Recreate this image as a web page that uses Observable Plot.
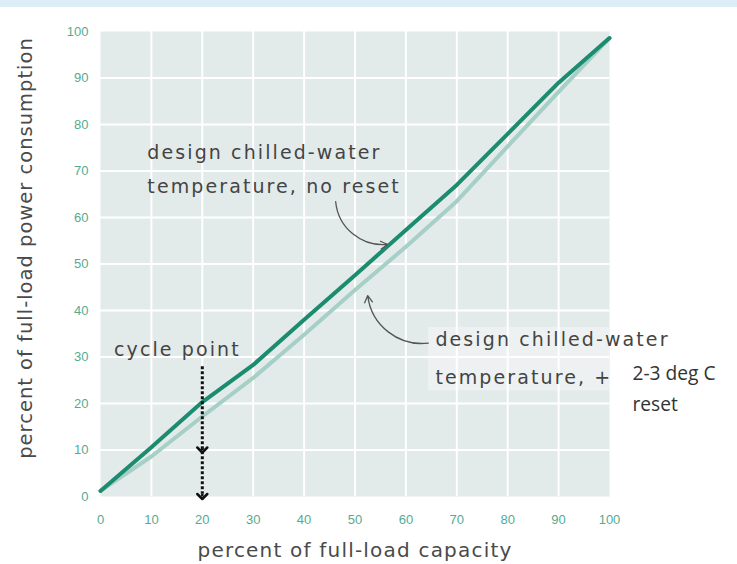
<!DOCTYPE html>
<html><head><meta charset="utf-8">
<script src="https://cdn.jsdelivr.net/npm/d3@7"></script>
<script src="https://cdn.jsdelivr.net/npm/@observablehq/plot@0.6"></script>
<style>
body{margin:0;background:#fff;}
#band{height:7px;background:#ddedf5;}
g[font-size="19"] text{letter-spacing:2.1px}
g[font-size="20"] text{letter-spacing:1.2px}
g[font-size="19.5"] text{letter-spacing:1px}
</style></head><body><div id="band"></div><div id="chart"></div>
<script>
// data
const capacity      = [0, 10, 20, 30, 40, 50, 60, 70, 80, 90, 100];
const powerNoReset  = [1.2, 10.6, 20.3, 28.3, 38, 47.6, 57.3, 67, 78, 89, 98.6];
const powerReset    = [1.2, 8.6, 17.2, 25.5, 34.8, 44.4, 53.7, 63.5, 75.3, 87, 98.6];
const xTicks = [0, 10, 20, 30, 40, 50, 60, 70, 80, 90, 100];
const yTicks = [0, 10, 20, 30, 40, 50, 60, 70, 80, 90, 100];
const gridTicks = [10, 20, 30, 40, 50, 60, 70, 80, 90];
const xLabel = "percent of full-load capacity";
const yLabel = "percent of full-load power consumption";

// annotations (data coordinates)
const noResetLabel = [{x: 9.2, y: 71.3, text: "design chilled-water\ntemperature, no reset"}];
const resetLabel = [{x: 65.8, y: 30.8, text: "design chilled-water\ntemperature, +"}];
const resetExtra = [{x: 104.5, y: 23.9, text: "2-3 deg C\nreset"}];
const resetBox = [{x1: 64.4, x2: 100, y1: 22.7, y2: 36.4}];
const cycleLabel = [{x: 15.1, y: 31.5, text: "cycle point"}];
const noResetArrow = [{x1: 46.2, y1: 63.4, x2: 56.4, y2: 54.2}];
const resetArrow = [{x1: 64.4, y1: 33.0, x2: 52.5, y2: 43.2}];
const cycleShaft = [{x1: 20, y1: 28, x2: 20, y2: 0.6}];
const cycleHeads = [{x1: 20, y1: 10.6, x2: 20, y2: 10}, {x1: 20, y1: 0.6, x2: 20, y2: 0}];

const rows = (ys) => capacity.map((x, i) => ({x, y: ys[i]}));

const chart = Plot.plot({
  width: 737,
  height: 557,
  marginLeft: 100,
  marginRight: 128,
  marginTop: 24,
  marginBottom: 68,
  x: {domain: [0, 100]},
  y: {domain: [0, 100]},
  style: {background: "white", fontFamily: "Liberation Sans, sans-serif"},
  marks: [
    Plot.frame({fill: "#e3eaea", stroke: null}),
    Plot.gridX(gridTicks, {stroke: "white", strokeOpacity: 1, strokeWidth: 2}),
    Plot.gridY(gridTicks, {stroke: "white", strokeOpacity: 1, strokeWidth: 2}),
    Plot.rect(resetBox, {x1: "x1", x2: "x2", y1: "y1", y2: "y2", fill: "white", fillOpacity: 0.35}),
    Plot.line(rows(powerReset), {x: "x", y: "y", stroke: "#a6d0c5", strokeWidth: 4, strokeLinecap: "round", strokeLinejoin: "round"}),
    Plot.line(rows(powerNoReset), {x: "x", y: "y", stroke: "#1b8c6f", strokeWidth: 4, strokeLinecap: "round", strokeLinejoin: "round"}),
    Plot.arrow(noResetArrow, {x1: "x1", y1: "y1", x2: "x2", y2: "y2", bend: -45, stroke: "#555", strokeWidth: 1.3, headLength: 9}),
    Plot.arrow(resetArrow, {x1: "x1", y1: "y1", x2: "x2", y2: "y2", bend: 45, stroke: "#555", strokeWidth: 1.3, headLength: 9}),
    Plot.link(cycleShaft, {x1: "x1", y1: "y1", x2: "x2", y2: "y2", stroke: "#111", strokeWidth: 3, strokeDasharray: "3,2"}),
    Plot.link(cycleHeads, {x1: "x1", y1: "y1", x2: "x2", y2: "y2", stroke: "#111", strokeWidth: 2.5, markerEnd: "arrow"}),
    Plot.text(noResetLabel, {x: "x", y: "y", text: "text", textAnchor: "start", lineAnchor: "middle", lineHeight: 1.79, fontSize: 19, fontFamily: "DejaVu Sans", fill: "#444"}),
    Plot.text(resetLabel, {x: "x", y: "y", text: "text", textAnchor: "start", lineAnchor: "middle", lineHeight: 2.0, fontSize: 19, fontFamily: "DejaVu Sans", fill: "#444"}),
    Plot.text(cycleLabel, {x: "x", y: "y", text: "text", textAnchor: "middle", lineAnchor: "middle", fontSize: 19, fontFamily: "DejaVu Sans", fill: "#444"}),
    Plot.text(resetExtra, {x: "x", y: "y", text: "text", textAnchor: "start", lineAnchor: "middle", lineHeight: 1.6, fontSize: 19.2, fontFamily: "Open Sans", fill: "#333", clip: false}),
    Plot.axisX(xTicks, {tickSize: 0, tickPadding: 18, fontSize: 13, fill: "#55ab92", label: null}),
    Plot.axisY(yTicks, {tickSize: 0, tickPadding: 12, fontSize: 13, fill: "#55ab92", label: null}),
    Plot.text([xLabel], {frameAnchor: "bottom", dy: 54, lineAnchor: "middle", fontSize: 20, fontFamily: "DejaVu Sans", fill: "#4a4a4a"}),
    Plot.text([yLabel], {frameAnchor: "left", dx: -75, dy: -16, rotate: -90, textAnchor: "middle", lineAnchor: "middle", fontSize: 19.5, fontFamily: "DejaVu Sans", fill: "#4a4a4a"})
  ]
});
document.getElementById("chart").append(chart);
</script></body></html>
